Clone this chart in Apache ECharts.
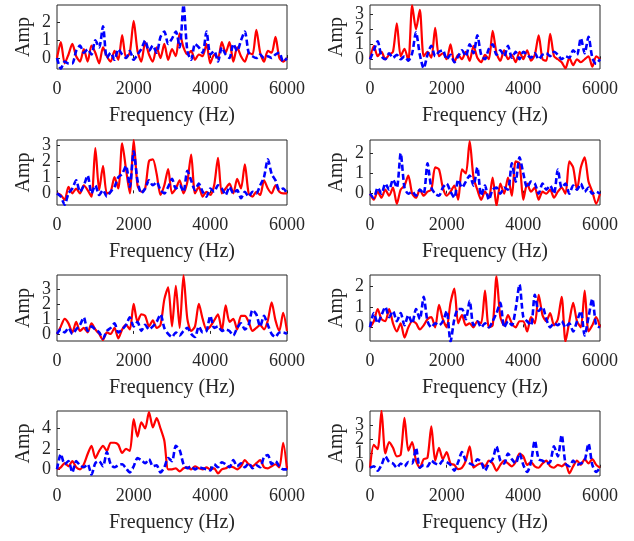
<!DOCTYPE html>
<html>
<head>
<meta charset="utf-8">
<script src="https://cdn.jsdelivr.net/npm/echarts@6/dist/echarts.min.js"></script>
<style>
  html, body { margin: 0; padding: 0; background: #fff; }
  #main { width: 634px; height: 541px; }
</style>
</head>
<body>
<div id="main"></div>
<script>
// frequency points (Hz)
var freq = [0,100,200,300,400,500,600,700,800,900,1000,1100,1200,1300,1400,1500,1600,1700,1800,1900,
  2000,2100,2200,2300,2400,2500,2600,2700,2800,2900,3000,3100,3200,3300,3400,3500,3600,3700,3800,3900,
  4000,4100,4200,4300,4400,4500,4600,4700,4800,4900,5000,5100,5200,5300,5400,5500,5600,5700,5800,5900,6000];

var xTicks = [0, 2000, 4000, 6000];

// red (solid) and blue (dashed) amplitudes per panel
var red1 = [0.0,0.9,-0.3,0.2,0.8,0.1,-0.2,0.5,-0.2,0.7,0.3,-0.3,0.6,0.1,-0.2,0.4,-0.1,1.3,0.0,0.3,
  2.1,0.4,-0.2,0.9,0.2,-0.2,0.6,0.0,0.8,-0.1,0.5,0.1,1.4,0.6,0.2,0.4,-0.1,0.2,0.1,0.8,
  -0.3,0.2,0.0,0.9,0.3,0.9,-0.2,0.6,0.1,-0.2,0.3,0.2,1.6,0.3,-0.2,0.4,0.3,1.2,0.0,-0.2,0.0];
var blue1 = [0.0,-0.6,-0.2,-0.3,-0.3,0.4,0.7,0.3,0.5,0.2,1.0,0.6,1.8,0.0,0.3,-0.1,0.5,0.2,0.0,0.4,
  -0.1,0.2,0.5,1.0,0.4,0.7,0.3,1.2,1.5,0.8,1.1,1.5,0.6,3.0,0.4,-0.1,0.8,0.6,0.3,1.5,
  0.2,0.4,-0.2,0.6,0.2,0.0,0.8,0.4,1.0,1.5,0.3,0.1,0.0,0.2,0.0,0.1,0.0,0.2,0.3,-0.2,0.0];

var red2 = [0.0,0.9,0.2,0.5,0.0,0.3,0.5,2.4,0.2,0.7,-0.1,3.6,2.0,3.3,0.2,0.5,0.1,2.1,0.2,0.4,
  0.0,1.0,-0.2,0.3,0.0,0.5,-0.1,0.9,0.1,-0.2,0.3,0.0,1.9,0.4,-0.1,0.6,0.0,0.3,-0.2,0.5,
  0.0,0.6,-0.1,0.3,1.6,0.0,-0.1,1.7,0.2,0.0,-0.2,-0.6,0.1,-0.4,0.0,-0.2,0.0,0.2,-0.5,0.2,0.0];
var blue2 = [0.0,0.6,1.2,0.2,0.0,0.4,0.1,0.3,0.0,0.2,-0.1,0.4,1.8,0.3,-0.6,0.3,0.9,0.2,0.5,0.6,
  0.0,0.3,-0.2,0.2,0.6,0.2,1.0,0.4,1.6,0.3,0.0,0.7,1.0,0.3,0.6,0.2,0.9,0.1,0.5,0.0,
  0.5,0.3,0.1,0.4,0.0,0.3,0.4,0.2,0.5,0.3,0.0,0.2,0.1,0.6,0.3,1.4,0.4,1.5,0.1,-0.3,0.0];

var red3 = [0.0,-0.1,-0.4,0.4,0.0,0.3,0.0,0.5,0.2,-0.2,2.8,0.2,1.7,0.0,0.1,1.0,0.3,3.1,1.5,0.0,
  3.3,0.5,0.1,0.3,2.0,2.1,1.2,-0.1,0.5,1.5,0.0,0.3,0.8,0.0,0.7,2.4,0.0,0.4,-0.2,0.1,
  -0.1,0.5,2.2,0.0,0.3,0.6,0.0,0.9,0.3,1.8,0.0,-0.2,0.1,-0.1,0.8,0.3,0.0,0.5,0.1,0.0,0.0];
var blue3 = [0.0,-0.2,-0.7,0.0,0.3,0.8,0.1,0.5,1.1,0.0,0.5,-0.1,0.2,-0.2,0.1,0.4,1.0,1.2,1.7,0.4,
  2.6,0.8,0.0,0.3,0.8,0.5,0.7,0.2,0.0,0.4,0.9,0.3,0.5,0.1,1.4,0.8,0.2,0.6,0.1,-0.2,
  0.3,0.1,0.5,0.3,-0.1,0.4,0.0,0.2,-0.3,0.1,-0.2,0.1,0.0,0.5,1.0,2.1,1.2,0.8,0.2,0.3,0.0];

var red4 = [0.0,-0.3,0.1,-0.2,0.2,-0.1,0.3,-0.5,0.2,0.4,0.9,0.0,-0.2,0.2,-0.1,0.1,0.2,1.3,1.2,0.3,
  -0.1,0.1,0.4,-0.3,1.2,1.0,2.6,0.8,0.2,-0.3,0.1,-0.2,0.8,-0.6,0.5,0.0,0.8,-0.1,1.6,1.5,
  -0.3,0.5,0.1,0.3,-0.3,0.1,0.0,0.2,-0.2,0.1,0.3,0.0,1.6,1.3,0.2,1.3,1.8,0.6,0.1,-0.5,0.0];
var blue4 = [0.0,-0.2,0.3,0.0,0.5,0.2,0.7,0.3,2.0,0.3,0.0,0.1,-0.1,0.2,0.0,1.5,0.3,0.0,-0.1,0.3,
  0.5,0.1,-0.2,0.7,0.3,0.6,0.9,0.4,1.3,-0.1,0.4,-0.3,0.2,0.3,0.0,0.3,0.2,1.5,0.6,1.8,
  1.0,0.3,0.6,0.5,0.0,0.5,0.2,0.4,0.0,1.2,0.3,0.5,0.0,0.4,0.2,0.5,0.1,0.3,0.0,0.1,0.0];

var red5 = [0.0,0.5,1.0,0.7,0.1,0.8,0.2,0.4,0.1,0.7,0.3,0.0,-0.4,0.1,0.0,0.4,-0.3,0.3,0.6,0.3,
  2.0,0.8,1.3,1.2,0.5,0.9,0.4,0.6,2.3,3.1,0.5,3.2,0.4,3.9,1.0,0.2,0.5,2.0,1.0,0.3,
  0.5,0.9,1.3,0.2,1.9,0.8,1.0,0.3,1.2,1.2,0.8,0.2,0.4,0.6,0.3,0.9,2.1,0.9,0.2,1.4,0.2];
var blue5 = [0.0,0.3,0.1,0.4,0.0,0.3,0.6,1.1,0.2,0.5,0.3,0.1,-0.3,0.2,0.4,0.7,0.1,0.3,0.6,1.1,
  0.5,0.8,0.2,0.6,0.3,0.5,0.8,1.3,0.4,0.0,-0.2,0.1,-0.1,0.2,0.4,0.0,-0.2,0.5,0.1,0.2,
  1.2,0.4,0.5,0.2,0.3,0.2,-0.1,0.4,0.7,0.3,0.6,1.6,1.3,0.5,1.2,0.6,0.0,-0.2,0.1,0.1,0.0];

var red6 = [0.0,0.3,0.9,0.4,0.3,0.9,0.2,-0.2,0.2,-0.5,0.0,0.3,0.2,-0.1,0.1,0.4,0.5,0.0,1.1,0.4,
  0.0,1.2,1.9,0.2,0.6,0.1,0.2,0.0,0.3,0.2,1.8,0.0,0.1,2.5,0.5,0.1,0.6,0.2,0.0,0.3,
  0.3,-0.2,0.5,0.2,1.6,0.6,0.3,0.7,0.1,0.4,1.5,-0.7,0.3,1.2,0.3,0.0,1.8,-0.2,0.1,0.5,0.0];
var blue6 = [0.0,0.7,0.2,0.6,1.0,0.5,0.8,0.3,0.7,0.1,0.6,0.2,0.9,0.4,1.5,0.3,0.0,0.2,0.1,0.3,
  0.8,-0.7,0.4,0.9,0.9,0.4,1.3,0.1,0.3,0.0,0.2,0.0,0.3,0.7,1.2,0.0,0.3,0.1,0.9,2.1,
  0.5,0.3,0.1,1.6,0.8,1.0,0.4,0.0,0.2,0.1,0.3,0.0,0.2,-0.2,0.3,0.8,-0.4,0.5,1.4,0.1,0.0];

var red7 = [0.0,0.2,0.6,0.3,0.8,0.2,0.0,0.5,1.5,2.3,1.1,1.8,2.3,1.8,2.6,2.6,2.4,1.6,2.0,1.8,
  4.9,3.2,4.6,4.0,5.6,4.1,5.0,4.0,2.8,0.0,0.0,0.1,-0.2,0.1,0.2,0.0,0.3,0.1,0.0,0.2,
  0.0,0.1,-0.4,0.0,0.1,0.3,0.2,0.0,0.3,0.9,0.5,0.3,0.6,0.9,0.2,0.1,0.3,0.5,0.2,2.6,0.0];
var blue7 = [0.0,1.5,0.5,0.8,-0.3,0.8,0.4,0.2,0.5,-0.5,0.6,0.8,0.3,1.7,0.5,0.2,0.4,0.5,0.1,-0.3,
  0.3,1.1,0.9,0.6,1.0,0.3,0.4,-0.3,0.2,1.1,0.8,2.3,1.9,0.5,0.1,0.3,0.0,0.2,0.1,0.0,
  -0.1,0.5,0.2,0.7,0.5,0.2,0.9,0.3,0.6,0.2,0.6,0.1,0.4,0.2,1.2,1.4,0.5,0.8,0.3,0.0,0.0];

var red8 = [0.0,1.6,1.3,4.0,1.0,1.8,1.4,0.8,0.9,3.5,1.2,1.8,0.5,0.0,0.6,0.7,2.9,0.5,1.4,0.6,
  1.1,0.3,0.2,-0.1,0.0,0.5,1.5,0.0,0.2,0.3,0.1,0.5,0.3,-0.2,0.2,0.5,0.3,0.1,0.4,1.0,
  0.8,0.2,0.4,0.1,0.0,0.3,0.5,0.1,0.0,0.2,0.1,0.3,-0.4,0.1,0.5,0.2,0.6,0.3,0.6,0.2,0.0];
var blue8 = [0.0,0.1,-0.2,0.2,0.8,0.4,0.3,0.0,0.3,0.1,0.4,0.3,1.4,0.0,0.2,0.1,0.5,0.3,0.2,0.5,
  0.4,0.2,-0.2,0.4,1.1,0.5,0.3,0.2,0.6,0.4,-0.2,0.3,0.6,1.5,0.5,0.3,1.0,0.6,0.3,1.0,
  0.2,-0.3,0.4,1.9,0.6,0.5,0.3,0.4,1.5,0.8,2.3,0.3,0.1,0.5,0.2,0.3,0.5,1.7,0.2,-0.3,0.0];

// y axis limits and tick labels per panel
var yMin = [-0.62, -0.65, -0.72, -0.56, -0.47, -0.67, -0.65, -0.58];
var yMax = [3.0, 3.62, 3.3, 2.66, 3.92, 2.57, 5.7, 3.98];
var yTicks = [[0,1,2],[0,1,2,3],[0,1,2,3],[0,1,2],[0,1,2,3],[0,1,2],[0,2,4],[0,1,2,3]];

var reds = [red1, red2, red3, red4, red5, red6, red7, red8];
var blues = [blue1, blue2, blue3, blue4, blue5, blue6, blue7, blue8];

var colLeft = [57, 370];
var rowTop = [5, 140, 275, 411];
var rowH = [64, 65, 66, 65];
var txt = '#262626';
var font = 'Liberation Serif';

function pairs(ys) {
  var out = [];
  for (var i = 0; i < freq.length; i++) out.push([freq[i], ys[i]]);
  return out;
}

var grid = [], xAxis = [], yAxis = [], series = [];
for (var p = 0; p < 8; p++) {
  var r = Math.floor(p / 2), c = p % 2;
  grid.push({
    left: colLeft[c], top: rowTop[r], width: 230, height: rowH[r],
    show: true, borderColor: txt, borderWidth: 1, backgroundColor: '#fff'
  });
  xAxis.push({
    type: 'value', gridIndex: p, min: 0, max: 6000,
    name: 'Frequency (Hz)', nameLocation: 'middle', nameGap: 37,
    nameTextStyle: { fontFamily: font, fontSize: 20, color: txt },
    axisLine: { show: false },
    axisTick: { show: true, inside: true, length: 3, customValues: xTicks, lineStyle: { color: txt } },
    axisLabel: {
      fontFamily: font, fontSize: 18, color: txt, margin: 11, customValues: xTicks,
      formatter: function (v) { return String(v); }
    },
    splitLine: { show: false }
  });
  // main y axis (ticks, name, series) for this panel
  var mainY = yAxis.length;
  yAxis.push({
    type: 'value', gridIndex: p, min: yMin[p], max: yMax[p], position: 'left', offset: 0,
    name: 'Amp', nameLocation: 'middle', nameGap: 23, nameRotate: 90,
    nameTextStyle: { fontFamily: font, fontSize: 20, color: txt },
    axisLine: { show: false },
    axisTick: { show: true, inside: true, length: 3, customValues: yTicks[p], lineStyle: { color: txt } },
    axisLabel: { show: false },
    splitLine: { show: false }
  });
  // one label-only axis per tick value, so tightly spaced labels are all kept
  yTicks[p].forEach(function (v) {
    yAxis.push({
      type: 'value', gridIndex: p, min: yMin[p], max: yMax[p], position: 'left', offset: 0,
      axisLine: { show: false }, axisTick: { show: false }, splitLine: { show: false },
      axisLabel: {
        fontFamily: font, fontSize: 18, color: txt, margin: 6, customValues: [v],
        showMinLabel: true, showMaxLabel: true,
        formatter: function (x) { return String(x); }
      }
    });
  });
  series.push({
    type: 'line', xAxisIndex: p, yAxisIndex: mainY, data: pairs(reds[p]),
    showSymbol: false, symbol: 'none', animation: false, smooth: 0.25,
    lineStyle: { color: '#ff0000', width: 2.2 }
  });
  series.push({
    type: 'line', xAxisIndex: p, yAxisIndex: mainY, data: pairs(blues[p]),
    showSymbol: false, symbol: 'none', animation: false, smooth: 0.25,
    lineStyle: { color: '#0000ff', width: 2.6, type: [6, 3] }
  });
}

var myChart = echarts.init(document.getElementById('main'), null, { renderer: 'canvas' });
myChart.setOption({
  animation: false,
  backgroundColor: '#fff',
  grid: grid,
  xAxis: xAxis,
  yAxis: yAxis,
  series: series
});
</script>
</body>
</html>
